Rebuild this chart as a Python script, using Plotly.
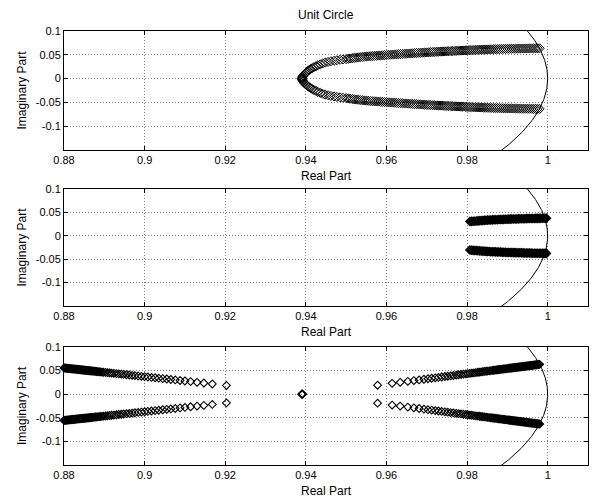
import numpy as np
import plotly.graph_objects as go

# ---------------- data (upper half-plane poles; lower half are conjugates) ----------------
# Panel 1
p1_re = [0.9390, 0.9391, 0.9392, 0.9393, 0.9395, 0.9397, 0.9400, 0.9402, 0.9405, 0.9408,
         0.9412, 0.9416, 0.9420, 0.9425, 0.9430, 0.9436, 0.9442, 0.9448, 0.9455, 0.9462,
         0.9470, 0.9477, 0.9485, 0.9492,
         0.9500, 0.9505, 0.9510, 0.9515, 0.9520, 0.9525, 0.9530, 0.9535, 0.9540, 0.9545,
         0.9550, 0.9555, 0.9560, 0.9565, 0.9570, 0.9575, 0.9580, 0.9585, 0.9590, 0.9595,
         0.9600, 0.9605, 0.9610, 0.9615, 0.9620, 0.9625, 0.9630, 0.9635, 0.9640, 0.9645,
         0.9650, 0.9655, 0.9660, 0.9665, 0.9670, 0.9675, 0.9680, 0.9685, 0.9690, 0.9695,
         0.9700, 0.9705, 0.9710, 0.9715, 0.9720, 0.9725, 0.9730, 0.9735, 0.9740, 0.9745,
         0.9750, 0.9755, 0.9760, 0.9765, 0.9770, 0.9775, 0.9780, 0.9785, 0.9790, 0.9795,
         0.9800, 0.9805, 0.9810, 0.9815, 0.9820, 0.9825, 0.9830, 0.9835, 0.9840, 0.9845,
         0.9850, 0.9855, 0.9860, 0.9865, 0.9870, 0.9875, 0.9880, 0.9885, 0.9890, 0.9895,
         0.9900, 0.9905, 0.9910, 0.9915, 0.9920, 0.9925, 0.9930, 0.9935, 0.9940, 0.9945,
         0.9950, 0.9955, 0.9960, 0.9965, 0.9970, 0.9975, 0.9980]
p1_im = [0.0000, 0.0020, 0.0040, 0.0060, 0.0080, 0.0100, 0.0120, 0.0140, 0.0160, 0.0180,
         0.0200, 0.0220, 0.0240, 0.0260, 0.0280, 0.0300, 0.0320, 0.0335, 0.0350, 0.0363,
         0.0375, 0.0385, 0.0395, 0.0403,
         0.0410, 0.0417, 0.0423, 0.0429, 0.0435, 0.0440, 0.0445, 0.0450, 0.0455, 0.0459,
         0.0463, 0.0467, 0.0470, 0.0474, 0.0477, 0.0480, 0.0483, 0.0486, 0.0489, 0.0492,
         0.0495, 0.0498, 0.0501, 0.0504, 0.0507, 0.0510, 0.0513, 0.0516, 0.0518, 0.0521,
         0.0524, 0.0527, 0.0529, 0.0532, 0.0535, 0.0538, 0.0540, 0.0543, 0.0545, 0.0548,
         0.0550, 0.0553, 0.0555, 0.0558, 0.0560, 0.0563, 0.0565, 0.0567, 0.0569, 0.0572,
         0.0574, 0.0576, 0.0578, 0.0580, 0.0582, 0.0584, 0.0586, 0.0589, 0.0591, 0.0593,
         0.0595, 0.0597, 0.0599, 0.0601, 0.0602, 0.0604, 0.0606, 0.0608, 0.0609, 0.0611,
         0.0612, 0.0614, 0.0615, 0.0617, 0.0618, 0.0619, 0.0620, 0.0622, 0.0623, 0.0624,
         0.0625, 0.0626, 0.0627, 0.0628, 0.0629, 0.0630, 0.0631, 0.0632, 0.0632, 0.0633,
         0.0633, 0.0634, 0.0634, 0.0635, 0.0635, 0.0636, 0.0636]

# Panel 2
p2_re = [0.9807, 0.9811, 0.9815, 0.9819, 0.9823, 0.9827, 0.9831, 0.9835, 0.9839, 0.9843,
         0.9847, 0.9851, 0.9855, 0.9859, 0.9863, 0.9867, 0.9871, 0.9875, 0.9879, 0.9883,
         0.9887, 0.9891, 0.9895, 0.9899, 0.9903, 0.9907, 0.9911, 0.9915, 0.9919, 0.9923,
         0.9927, 0.9931, 0.9935, 0.9939, 0.9943, 0.9947, 0.9951, 0.9955, 0.9959, 0.9963,
         0.9967, 0.9971, 0.9975, 0.9979, 0.9983, 0.9987, 0.9991, 0.9995, 0.9997]
p2_im = [0.0305, 0.0308, 0.0311, 0.0313, 0.0316, 0.0319, 0.0322, 0.0325, 0.0327, 0.0330,
         0.0333, 0.0335, 0.0337, 0.0339, 0.0340, 0.0342, 0.0343, 0.0345, 0.0347, 0.0348,
         0.0350, 0.0351, 0.0353, 0.0355, 0.0356, 0.0357, 0.0358, 0.0359, 0.0360, 0.0361,
         0.0362, 0.0363, 0.0364, 0.0365, 0.0366, 0.0367, 0.0368, 0.0369, 0.0370, 0.0371,
         0.0371, 0.0372, 0.0373, 0.0373, 0.0374, 0.0375, 0.0375, 0.0376, 0.0376]

# Panel 3 – right branch
p3r_re = [0.9578, 0.9614, 0.9634, 0.9653, 0.9668, 0.9681, 0.9693, 0.9703, 0.9712, 0.9721,
          0.9729, 0.9737, 0.9745, 0.9752, 0.9759, 0.9766, 0.9773, 0.9779, 0.9785, 0.9791,
          0.9797, 0.9802, 0.9807, 0.9812, 0.9817, 0.9822, 0.9827, 0.9831, 0.9835, 0.9839,
          0.9843, 0.9847, 0.9851, 0.9855, 0.9859, 0.9863, 0.9866, 0.9869, 0.9872, 0.9875,
          0.9878, 0.9881, 0.9884, 0.9887, 0.9890, 0.9893, 0.9896, 0.9899, 0.9902, 0.9904,
          0.9906, 0.9908, 0.9910, 0.9912, 0.9914, 0.9916, 0.9918, 0.9920, 0.9922, 0.9924,
          0.9926, 0.9928, 0.9930, 0.9932, 0.9934, 0.9936, 0.9938, 0.9940, 0.9942, 0.9944,
          0.9946, 0.9948, 0.9950, 0.9952, 0.9954, 0.9956, 0.9958, 0.9960, 0.9962, 0.9964,
          0.9966, 0.9968, 0.9970, 0.9972, 0.9974, 0.9976, 0.9978, 0.9980]
p3r_im = [0.0190, 0.0230, 0.0252, 0.0273, 0.0289, 0.0303, 0.0317, 0.0328, 0.0337, 0.0347,
          0.0356, 0.0365, 0.0374, 0.0381, 0.0389, 0.0397, 0.0405, 0.0411, 0.0418, 0.0424,
          0.0431, 0.0436, 0.0442, 0.0447, 0.0453, 0.0458, 0.0464, 0.0468, 0.0473, 0.0477,
          0.0482, 0.0486, 0.0490, 0.0495, 0.0499, 0.0504, 0.0507, 0.0510, 0.0513, 0.0517,
          0.0520, 0.0523, 0.0527, 0.0530, 0.0533, 0.0537, 0.0540, 0.0543, 0.0546, 0.0549,
          0.0551, 0.0553, 0.0555, 0.0557, 0.0560, 0.0562, 0.0564, 0.0566, 0.0568, 0.0571,
          0.0573, 0.0575, 0.0577, 0.0579, 0.0582, 0.0584, 0.0586, 0.0588, 0.0590, 0.0593,
          0.0595, 0.0597, 0.0599, 0.0601, 0.0604, 0.0606, 0.0608, 0.0610, 0.0612, 0.0615,
          0.0617, 0.0619, 0.0621, 0.0623, 0.0626, 0.0628, 0.0630, 0.0632]

# Panel 3 – left branch
p3l_re = [0.9203, 0.9168, 0.9147, 0.9130, 0.9114, 0.9100, 0.9088, 0.9076, 0.9065, 0.9055,
          0.9045, 0.9035, 0.9026, 0.9017, 0.9008, 0.9000, 0.8992, 0.8984, 0.8976, 0.8969,
          0.8962, 0.8955, 0.8948, 0.8942, 0.8936, 0.8930, 0.8924, 0.8918, 0.8913, 0.8908,
          0.8903, 0.8898, 0.8894, 0.8890, 0.8887, 0.8884, 0.8881, 0.8878, 0.8875, 0.8872,
          0.8870, 0.8868, 0.8866, 0.8864, 0.8862, 0.8860, 0.8858, 0.8856, 0.8854, 0.8852,
          0.8850, 0.8848, 0.8846, 0.8844, 0.8842, 0.8840, 0.8838, 0.8836, 0.8834, 0.8832,
          0.8830, 0.8828, 0.8826, 0.8824, 0.8822, 0.8820, 0.8818, 0.8816, 0.8814, 0.8812,
          0.8810, 0.8808, 0.8806, 0.8804, 0.8802, 0.8800]
p3l_im = [0.0185, 0.0217, 0.0237, 0.0252, 0.0267, 0.0280, 0.0291, 0.0302, 0.0312, 0.0321,
          0.0330, 0.0340, 0.0348, 0.0356, 0.0364, 0.0372, 0.0379, 0.0386, 0.0394, 0.0400,
          0.0407, 0.0413, 0.0420, 0.0425, 0.0431, 0.0436, 0.0442, 0.0447, 0.0452, 0.0456,
          0.0461, 0.0466, 0.0469, 0.0473, 0.0476, 0.0479, 0.0481, 0.0484, 0.0487, 0.0490,
          0.0491, 0.0493, 0.0495, 0.0497, 0.0499, 0.0501, 0.0502, 0.0504, 0.0506, 0.0508,
          0.0510, 0.0512, 0.0513, 0.0515, 0.0517, 0.0519, 0.0521, 0.0523, 0.0524, 0.0526,
          0.0528, 0.0530, 0.0532, 0.0534, 0.0536, 0.0537, 0.0539, 0.0541, 0.0543, 0.0545,
          0.0547, 0.0548, 0.0550, 0.0552, 0.0554, 0.0556]

# Panel 3 – real pole
p3c_re = [0.9390, 0.9392]
p3c_im = [0.0000, 0.0000]

x_ticks = [0.88, 0.90, 0.92, 0.94, 0.96, 0.98, 1.00]
x_tick_labels = ["0.88", "0.9", "0.92", "0.94", "0.96", "0.98", "1"]
y_ticks = [-0.1, -0.05, 0, 0.05, 0.1]
y_tick_labels = ["-0.1", "-0.05", "0", "0.05", "0.1"]
x_range = [0.88, 1.01]
y_range = [-0.15, 0.1]

for a, b in [(p1_re, p1_im), (p2_re, p2_im), (p3r_re, p3r_im), (p3l_re, p3l_im), (p3c_re, p3c_im)]:
    assert len(a) == len(b), (len(a), len(b))

# unit circle (reference geometry)
theta = np.linspace(-0.25, 0.25, 400)
circ_x = np.cos(theta)
circ_y = np.sin(theta)

FONT = "Liberation Sans, Arial, Helvetica, sans-serif"

fig = go.Figure()

def conj(v):
    return [-a for a in v]

panels = [
    [(p1_re, p1_im)],
    [(p2_re, p2_im)],
    [(p3r_re, p3r_im), (p3l_re, p3l_im), (p3c_re, p3c_im)],
]
marker_size = [7, 6, 6]
marker_lw = [1.0, 1.6, 1.1]

for i, series in enumerate(panels, start=1):
    xa = "x" if i == 1 else f"x{i}"
    ya = "y" if i == 1 else f"y{i}"
    fig.add_trace(go.Scatter(x=circ_x, y=circ_y, mode="lines",
                             line=dict(color="black", width=1),
                             xaxis=xa, yaxis=ya, showlegend=False, hoverinfo="skip"))
    for re, im in series:
        for yy in (im, conj(im)):
            fig.add_trace(go.Scatter(
                x=re, y=yy, mode="markers",
                marker=dict(symbol="diamond-open", size=marker_size[i - 1], color="black",
                            line=dict(color="black", width=marker_lw[i - 1])),
                cliponaxis=False, xaxis=xa, yaxis=ya, showlegend=False))

domains = [[0.7258, 1.0], [0.3664, 0.6359], [0.0, 0.2719]]

axis_common = dict(
    showline=True, linecolor="black", linewidth=1, mirror="ticks",
    ticks="inside", ticklen=4, tickcolor="black",
    showgrid=True, gridcolor="#808080", gridwidth=1, griddash="1px,2px",
    zeroline=False, tickfont=dict(family=FONT, size=11, color="black"),
)

layout = dict(
    width=592, height=501,
    margin=dict(l=64, r=4, t=31, b=36),
    paper_bgcolor="white", plot_bgcolor="white",
    font=dict(family=FONT, size=11, color="black"),
    showlegend=False,
)
for i in range(1, 4):
    xk = "xaxis" if i == 1 else f"xaxis{i}"
    yk = "yaxis" if i == 1 else f"yaxis{i}"
    ya = "y" if i == 1 else f"y{i}"
    xa = "x" if i == 1 else f"x{i}"
    layout[xk] = dict(axis_common, range=x_range, tickvals=x_ticks, ticktext=x_tick_labels,
                      anchor=ya, domain=[0, 1],
                      title=dict(text="Real Part", standoff=6,
                                 font=dict(family=FONT, size=12, color="black")))
    layout[yk] = dict(axis_common, range=y_range, tickvals=y_ticks, ticktext=y_tick_labels,
                      anchor=xa, domain=domains[i - 1],
                      title=dict(text="Imaginary Part", standoff=6,
                                 font=dict(family=FONT, size=12, color="black")))

fig.update_layout(**layout)
fig.add_annotation(text="Unit Circle", x=0.5, y=1.0, xref="paper", yref="paper",
                   xanchor="center", yanchor="bottom", yshift=7, showarrow=False,
                   font=dict(family=FONT, size=12, color="black"))

fig.write_html("out.html")
